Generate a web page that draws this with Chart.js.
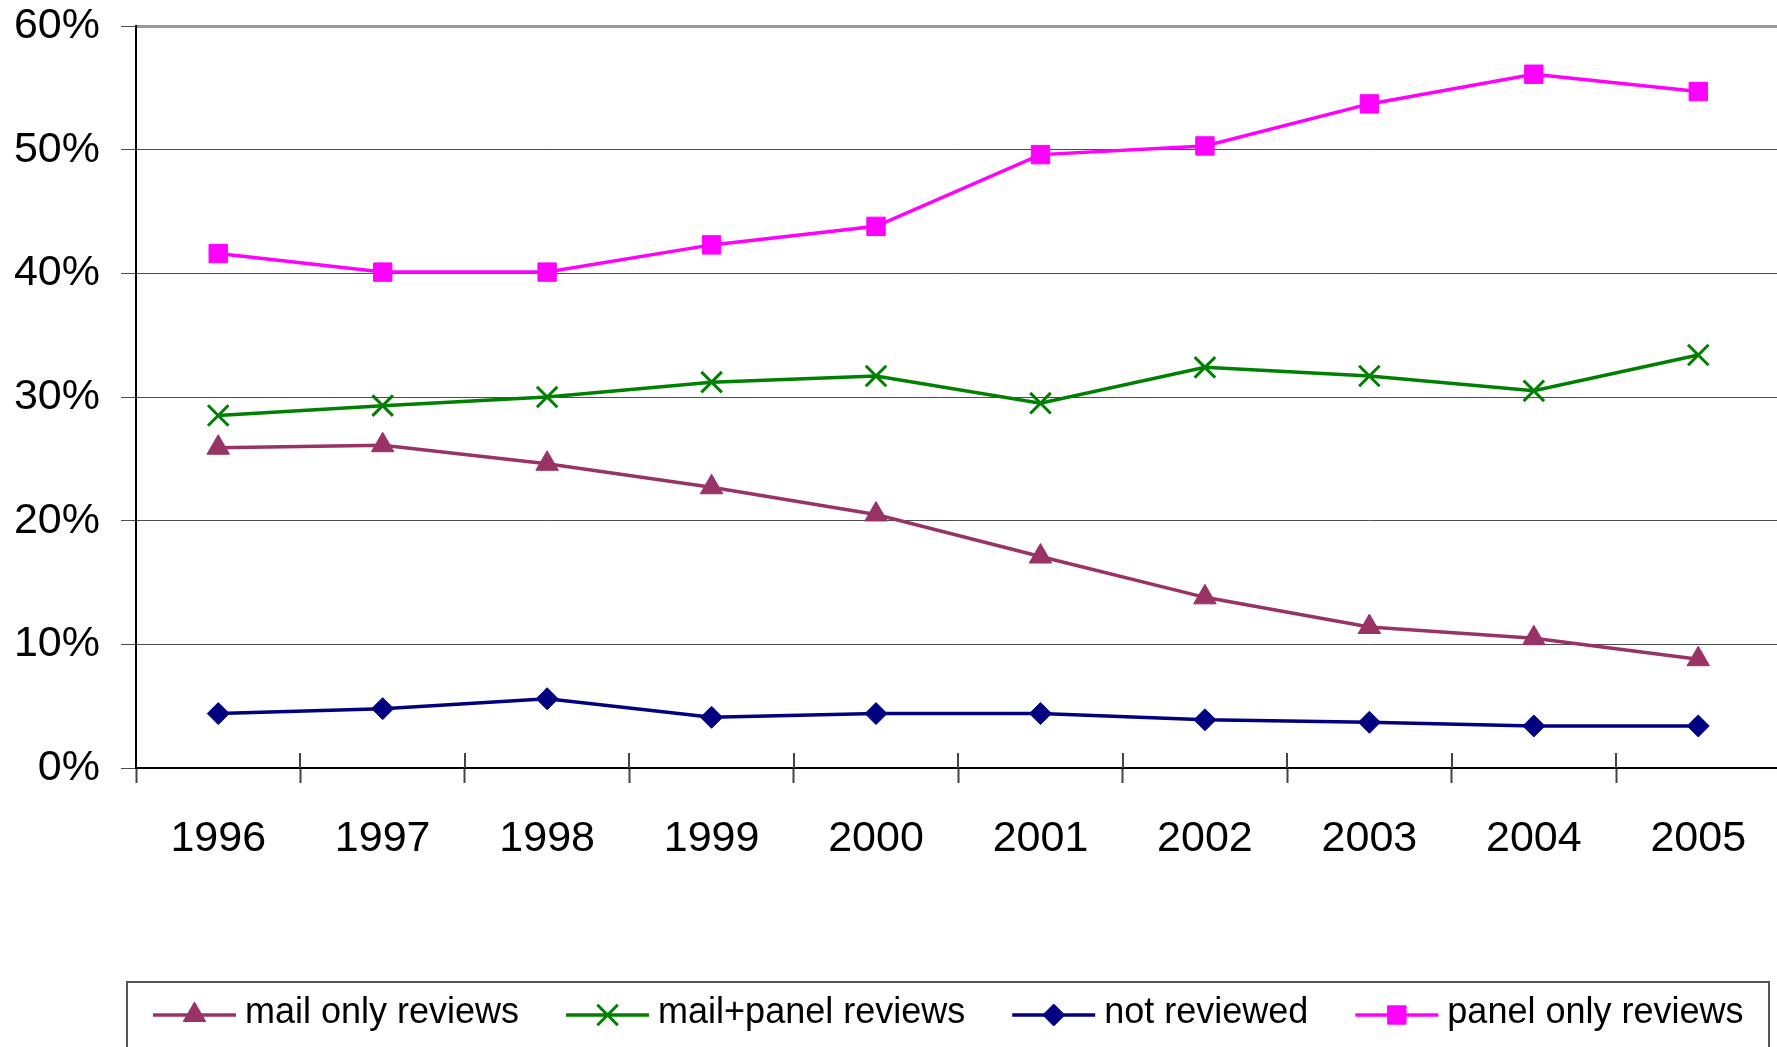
<!DOCTYPE html>
<html>
<head>
<meta charset="utf-8">
<title>Reviews by type, 1996-2005</title>
<script src="https://cdn.jsdelivr.net/npm/chart.js@4/dist/chart.umd.min.js"></script>
<style>
  html, body { margin: 0; padding: 0; background: #fff; overflow: hidden; }
  #wrap { position: relative; width: 1798px; height: 1047px; }
</style>
</head>
<body>
<div id="wrap"><canvas id="chart" width="1798" height="1047"></canvas></div>
<script>
// Share of proposals by review type, in percent
const years = ['1996', '1997', '1998', '1999', '2000', '2001', '2002', '2003', '2004', '2005'];
const mailOnly    = [25.9, 26.1, 24.6, 22.7, 20.5, 17.1, 13.8, 11.4, 10.5, 8.8];
const mailPanel   = [28.5, 29.3, 30.0, 31.2, 31.7, 29.5, 32.4, 31.7, 30.5, 33.4];
const notReviewed = [4.4, 4.8, 5.6, 4.1, 4.4, 4.4, 3.9, 3.7, 3.4, 3.4];
const panelOnly   = [41.6, 40.1, 40.1, 42.3, 43.8, 49.6, 50.3, 53.7, 56.1, 54.7];
const yTicks = [0, 10, 20, 30, 40, 50, 60];

const FONT = "'Liberation Sans', Arial, Helvetica, sans-serif";
Chart.defaults.font.family = FONT;
Chart.defaults.color = '#000';

// Boxed legend along the bottom: line sample with marker, then the series name
const boxedLegend = {
  id: 'boxedLegend',
  afterDraw(chart) {
    const ctx = chart.ctx;
    const top = 982, lineY = 1015, textY = 1023;
    ctx.save();
    ctx.strokeStyle = '#555';
    ctx.lineWidth = 2;
    ctx.strokeRect(127, top, 1769 - 127, 120);
    ctx.font = '36px ' + FONT;
    ctx.textBaseline = 'alphabetic';
    ctx.textAlign = 'left';
    let x = 153;
    chart.data.datasets.forEach(ds => {
      ctx.strokeStyle = ds.borderColor;
      ctx.lineWidth = ds.borderWidth;
      ctx.beginPath();
      ctx.moveTo(x, lineY);
      ctx.lineTo(x + 83, lineY);
      ctx.stroke();
      ctx.fillStyle = ds.borderColor;
      ctx.strokeStyle = ds.borderColor;
      ctx.lineWidth = ds.pointBorderWidth || 1;
      Chart.helpers.drawPoint(ctx, {
        pointStyle: ds.pointStyle, radius: ds.pointRadius, rotation: 0,
        borderWidth: ds.pointBorderWidth || 1
      }, x + 41.5, lineY);
      ctx.fillStyle = '#000';
      ctx.fillText(ds.label, x + 92, textY);
      x += 92 + ctx.measureText(ds.label).width + 47;
    });
    ctx.restore();
  }
};

// Category-boundary tick marks that cross the x axis (inner half)
const crossTicks = {
  id: 'crossTicks',
  afterDraw(chart) {
    const xs = chart.scales.x, ctx = chart.ctx;
    const w = xs.getPixelForValue(1) - xs.getPixelForValue(0);
    const x0 = xs.getPixelForValue(0) - w / 2;
    const bottom = chart.chartArea.bottom;
    ctx.save();
    ctx.strokeStyle = '#444';
    ctx.lineWidth = 2;
    for (let i = 1; i <= years.length; i++) {
      const x = Math.round(x0 + i * w);
      ctx.beginPath();
      ctx.moveTo(x, bottom - 15);
      ctx.lineTo(x, bottom);
      ctx.stroke();
    }
    ctx.restore();
  }
};

const lineDefaults = { borderWidth: 3.5, tension: 0, fill: false };

new Chart(document.getElementById('chart'), {
  type: 'line',
  data: {
    labels: years,
    datasets: [
      Object.assign({ label: 'mail only reviews', data: mailOnly,
        borderColor: '#993366', backgroundColor: '#993366',
        pointStyle: 'triangle', pointRadius: 13, pointBorderWidth: 1,
        pointBackgroundColor: '#993366', pointBorderColor: '#993366' }, lineDefaults),
      Object.assign({ label: 'mail+panel reviews', data: mailPanel,
        borderColor: '#008000', backgroundColor: '#008000',
        pointStyle: 'crossRot', pointRadius: 14.5, pointBorderWidth: 3,
        pointBackgroundColor: '#008000', pointBorderColor: '#008000' }, lineDefaults),
      Object.assign({ label: 'not reviewed', data: notReviewed,
        borderColor: '#000080', backgroundColor: '#000080',
        pointStyle: 'rectRot', pointRadius: 11, pointBorderWidth: 1,
        pointBackgroundColor: '#000080', pointBorderColor: '#000080' }, lineDefaults),
      Object.assign({ label: 'panel only reviews', data: panelOnly,
        borderColor: '#FF00FF', backgroundColor: '#FF00FF',
        pointStyle: 'rect', pointRadius: 13, pointBorderWidth: 1,
        pointBackgroundColor: '#FF00FF', pointBorderColor: '#FF00FF' }, lineDefaults)
    ]
  },
  options: {
    responsive: false,
    animation: false,
    layout: { padding: { top: 26, right: 10, bottom: 0, left: 0 } },
    plugins: {
      legend: { display: false },
      tooltip: { enabled: false }
    },
    scales: {
      x: {
        offset: true,
        afterFit(scale) {
          scale.height = 279;
          scale.paddingLeft = 0;
          scale.paddingRight = 0;
        },
        grid: {
          offset: true, drawOnChartArea: false, drawTicks: true,
          tickLength: 15, tickColor: '#444', tickWidth: 2
        },
        border: { color: '#000', width: 2 },
        ticks: { font: { size: 43 }, color: '#000', padding: 30, maxRotation: 0, autoSkip: false }
      },
      y: {
        min: 0, max: 60,
        afterFit(scale) {
          scale.width = 136;
          scale.paddingTop = 0;
          scale.paddingBottom = 0;
        },
        afterBuildTicks(scale) { scale.ticks = yTicks.map(v => ({ value: v })); },
        grid: {
          color: c => (c.tick && c.tick.value === 60) ? '#999' : '#4d4d4d',
          lineWidth: c => (c.tick && c.tick.value === 60) ? 3 : 1,
          drawTicks: true, tickLength: 15, tickColor: '#4d4d4d', tickWidth: 1
        },
        border: { color: '#000', width: 2 },
        ticks: {
          font: { size: 43 }, color: '#000', padding: 21,
          callback: v => v + '%'
        }
      }
    }
  },
  plugins: [boxedLegend, crossTicks]
});
</script>
</body>
</html>
